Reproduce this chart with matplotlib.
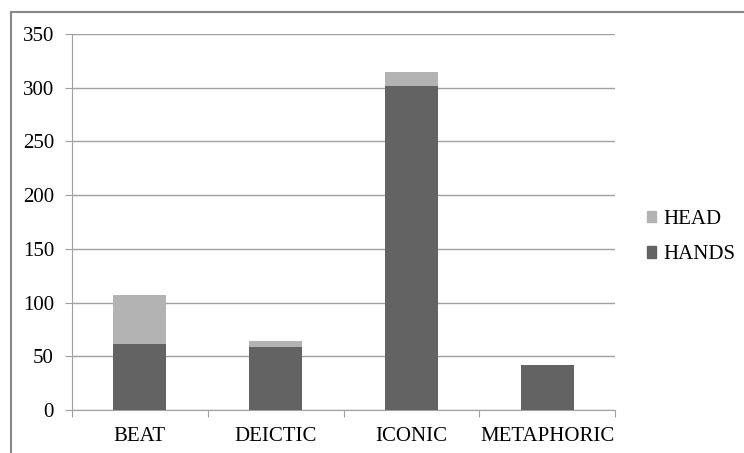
import matplotlib.pyplot as plt
from matplotlib.lines import Line2D
from matplotlib.patches import Patch

# gesture counts per category
categories = ['BEAT', 'DEICTIC', 'ICONIC', 'METAPHORIC']
hands = [61, 59, 302, 42]
head = [46, 5, 13, 0]

plt.rcParams['font.family'] = ['Liberation Serif', 'DejaVu Serif']

fig = plt.figure(figsize=(7.44, 4.53), dpi=100)
ax = fig.add_axes([72/744, 43/453, 543/744, 376/453])

x = range(len(categories))
ax.bar(x, hands, width=0.39, color='#636363', zorder=3)
ax.bar(x, head, width=0.39, bottom=hands, color='#b3b3b3', zorder=3)

ax.set_xlim(-0.5, len(categories) - 0.5)
ax.set_ylim(0, 350)
ax.set_yticks(range(0, 351, 50))
ax.yaxis.grid(True, color='#a0a0a0', linewidth=1, zorder=0)

ax.set_xticks([i + 0.5 for i in range(-1, len(categories))])
ax.set_xticklabels([])
ax.set_xticks(list(x), categories, minor=True)
ax.tick_params(axis='x', which='minor', length=0, labelsize=15, pad=12)
ax.tick_params(axis='x', which='major', length=5, color='#a0a0a0')
ax.tick_params(axis='y', length=5, color='#a0a0a0', labelsize=15, pad=8)

for s in ['top', 'right']:
    ax.spines[s].set_visible(False)
for s in ['left', 'bottom']:
    ax.spines[s].set_color('#a0a0a0')

handles = [Patch(color='#b3b3b3', label='HEAD'), Patch(color='#636363', label='HANDS')]
fig.legend(handles=handles, loc='center left', bbox_to_anchor=(628/744, 1 - 237/453),
           frameon=False, fontsize=15, handlelength=0.45, handleheight=0.45,
           handletextpad=0.35, labelspacing=0.8)

# outer chart border
fig.add_artist(Line2D([11/744, 11/744], [0, 1 - 11.5/453], color='#888888', linewidth=1.5))
fig.add_artist(Line2D([11/744, 1], [1 - 11.5/453, 1 - 11.5/453], color='#888888', linewidth=1.5))

fig.savefig('out.png', dpi=100)
